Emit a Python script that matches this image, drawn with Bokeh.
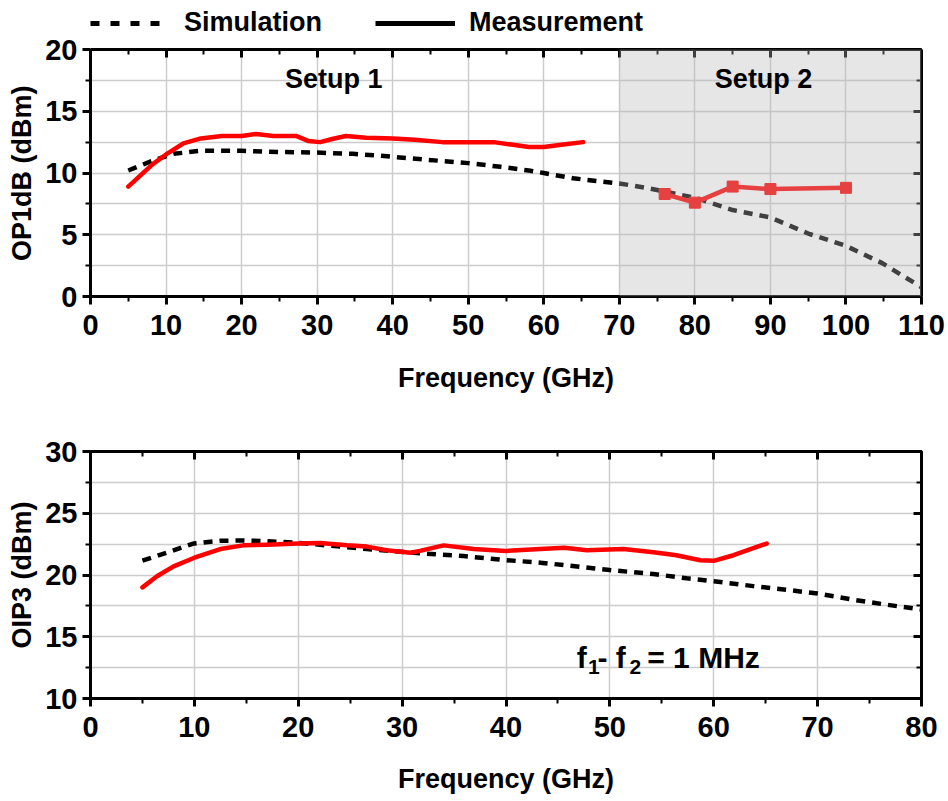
from bokeh.plotting import figure
from bokeh.models import (LinearAxis, SingleIntervalTicker, BoxAnnotation, CustomJSTickFormatter,
                          Label, Legend, LegendItem, Range1d)
from bokeh.layouts import column
from bokeh.embed import file_html
from bokeh.resources import INLINE

FONT = "Liberation Sans"

# ---------------- data: top panel (OP1dB) ----------------
op1_sim_f = [5, 8.2, 11, 14.6, 20, 25, 30, 34.7, 38.4, 42, 46.6, 50, 54.3, 58, 60, 63.9, 70,
             73.6, 80, 85, 90, 95, 100, 104.8, 110]
op1_sim_v = [10.2, 11.0, 11.55, 11.8, 11.8, 11.7, 11.65, 11.55, 11.4, 11.2, 10.97, 10.8, 10.5,
             10.2, 10.0, 9.57, 9.15, 8.8, 8.0, 7.0, 6.4, 5.1, 4.1, 2.7, 0.75]
op1_meas1_f = [5, 8.2, 10, 12.3, 14.6, 17.4, 20, 21.9, 24.2, 27.2, 28.8, 30.4, 32, 33.8, 36.5,
               40, 42.9, 46.6, 50.1, 53.4, 55.7, 58, 60, 62.6, 65.2]
op1_meas1_v = [8.9, 10.7, 11.5, 12.4, 12.8, 13.0, 13.0, 13.15, 13.0, 13.0, 12.6, 12.5, 12.75,
               13.0, 12.85, 12.8, 12.7, 12.5, 12.5, 12.5, 12.3, 12.1, 12.1, 12.3, 12.5]
op1_meas2_f = [76, 80, 85, 90, 100]
op1_meas2_v = [8.3, 7.6, 8.9, 8.7, 8.8]

# ---------------- data: bottom panel (OIP3) ----------------
oip3_sim_f = [5, 7.7, 9.9, 12.5, 14.7, 17, 20, 22.1, 26.6, 31.1, 35.9, 40, 43.3, 45.6, 50,
              54.2, 57.4, 60, 63.8, 67, 70, 73.4, 76.6, 80]
oip3_sim_v = [21.16, 21.9, 22.55, 22.77, 22.8, 22.74, 22.6, 22.45, 22.1, 21.8, 21.53, 21.2,
              21.0, 20.8, 20.4, 20.08, 19.73, 19.5, 19.1, 18.8, 18.5, 18.0, 17.6, 17.2]
oip3_meas_f = [5, 6.4, 8, 10, 12.5, 14.7, 17, 20, 22.1, 24.7, 26.6, 28.5, 30.8, 31.7, 34, 36.9,
               40, 43.3, 45.6, 47.8, 51.3, 54.2, 56.4, 58.7, 60, 61.9, 65.1]
oip3_meas_v = [19.0, 19.9, 20.7, 21.4, 22.1, 22.4, 22.45, 22.55, 22.6, 22.4, 22.3, 22.0, 21.8,
               21.95, 22.4, 22.1, 21.95, 22.1, 22.2, 22.0, 22.1, 21.85, 21.6, 21.2, 21.15,
               21.6, 22.55]

legend_labels = ["Simulation", "Measurement"]

RED = "#ff0000"
GRID = "#cccccc"


def empty_fmt():
    return CustomJSTickFormatter(code="return ''")


def base_axis_style(ax, iv):
    ax.ticker = SingleIntervalTicker(interval=iv, num_minor_ticks=2)
    ax.axis_line_width = 3
    ax.major_tick_line_width = 3
    ax.minor_tick_line_width = 2


def label_axis_style(ax, iv):
    base_axis_style(ax, iv)
    ax.major_tick_out = 8
    ax.major_tick_in = 0
    ax.minor_tick_out = 5
    ax.minor_tick_in = 0
    ax.major_label_text_font = FONT
    ax.major_label_text_font_style = "bold"
    ax.major_label_text_font_size = "29px"
    ax.major_label_text_color = "black"
    ax.axis_label_text_font = FONT
    ax.axis_label_text_font_style = "bold"
    ax.axis_label_text_font_size = "27px"
    ax.axis_label_text_color = "black"


def mirror_axis(iv, tin, tout, **kw):
    ax = LinearAxis(formatter=empty_fmt(), **kw)
    base_axis_style(ax, iv)
    ax.major_tick_out = tout
    ax.major_tick_in = tin
    ax.minor_tick_out = int(tout * 5 / 8)
    ax.minor_tick_in = int(tin * 5 / 8)
    ax.major_label_text_font_size = "2px"
    ax.major_label_standoff = 0
    return ax


# ---------------- top figure ----------------
# frame extends above y = 20 so that the legend sits inside it; axes/grid bounded to 0..20
Y_TOP = 20 + 49 / (247 / 20)
# trailing (non-collapsing) spaces re-centre the rotated label on the 0..20 part of the frame
p1 = figure(width=948, height=400, x_range=Range1d(0, 110), y_range=Range1d(0, Y_TOP),
            output_backend="svg", toolbar_location=None,
            min_border_left=90, min_border_right=27, min_border_top=0, min_border_bottom=104,
            x_axis_label="Frequency (GHz)",
            y_axis_label="OP1dB (dBm)\u2003\u00a0\u00a0\u00a0")
p1.outline_line_color = None
p1.background_fill_color = "white"
p1.border_fill_color = "white"
label_axis_style(p1.xaxis[0], 10)
label_axis_style(p1.yaxis[0], 5)
p1.yaxis[0].bounds = (0, 20)
p1.xaxis[0].major_label_standoff = 10
p1.yaxis[0].major_label_standoff = 5
p1.xaxis[0].axis_label_standoff = 25
p1.yaxis[0].axis_label_standoff = 5
p1.xgrid.ticker = SingleIntervalTicker(interval=10)
p1.ygrid.ticker = SingleIntervalTicker(interval=2.5)
p1.ygrid.bounds = (0, 20)
try:
    p1.xgrid.cross_bounds = (0, 20)
except Exception:
    pass
for g in (p1.xgrid[0], p1.ygrid[0]):
    g.grid_line_color = GRID
    g.grid_line_width = 1.5
# right mirror axis, ticks pointing in
p1.add_layout(mirror_axis(5, 8, 0, bounds=(0, 20)), "right")
# top frame line with inward ticks, drawn at y = 20
p1.add_layout(mirror_axis(10, 0, 8, fixed_location=20), "below")

p1.line(op1_sim_f, op1_sim_v, line_color="black", line_width=4.5, line_dash="9 7")
p1.line(op1_meas1_f, op1_meas1_v, line_color=RED, line_width=4.5, line_join="round", line_cap="round")
p1.line(op1_meas2_f, op1_meas2_v, line_color=RED, line_width=4.5)
p1.scatter(op1_meas2_f, op1_meas2_v, marker="square", size=11, color=RED)

p1.add_layout(BoxAnnotation(left=70, right=110, bottom=0, top=20, fill_color="#b7b7b7",
                            fill_alpha=0.35, line_color=None))
for txt, x in (("Setup 1", 32.2), ("Setup 2", 89.1)):
    p1.add_layout(Label(x=x, y=17.65, text=txt, text_align="center", text_baseline="middle",
                        text_font=FONT, text_font_style="bold", text_font_size="27px",
                        text_color="black"))

d_sim = p1.line([-20, -10], [-20, -10], line_color="black", line_width=5, line_dash="9 11")
d_meas = p1.line([-20, -10], [-20, -10], line_color="black", line_width=5)
legend = Legend(items=[LegendItem(label=legend_labels[0], renderers=[d_sim]),
                       LegendItem(label=legend_labels[1], renderers=[d_meas])],
                orientation="horizontal", location=(0, 258), border_line_color=None,
                background_fill_alpha=0, label_text_font=FONT, label_text_font_style="bold",
                label_text_font_size="27px", label_text_color="black",
                glyph_width=80, glyph_height=30, label_standoff=14, spacing=53,
                padding=0, margin=0)
p1.add_layout(legend)

# ---------------- bottom figure ----------------
p2 = figure(width=948, height=401, x_range=Range1d(0, 80), y_range=Range1d(10, 30),
            output_backend="svg", toolbar_location=None,
            min_border_left=90, min_border_right=27, min_border_top=51, min_border_bottom=103,
            x_axis_label="Frequency (GHz)", y_axis_label="OIP3 (dBm)")
p2.outline_line_color = "black"
p2.outline_line_width = 3
p2.background_fill_color = "white"
p2.border_fill_color = "white"
label_axis_style(p2.xaxis[0], 10)
label_axis_style(p2.yaxis[0], 5)
p2.xaxis[0].major_label_standoff = 10
p2.yaxis[0].major_label_standoff = 5
p2.xaxis[0].axis_label_standoff = 24
p2.yaxis[0].axis_label_standoff = 5
p2.xgrid.ticker = SingleIntervalTicker(interval=10)
p2.ygrid.ticker = SingleIntervalTicker(interval=2.5)
for g in (p2.xgrid[0], p2.ygrid[0]):
    g.grid_line_color = GRID
    g.grid_line_width = 1.5
p2.add_layout(mirror_axis(10, 8, 0), "above")
p2.add_layout(mirror_axis(5, 8, 0), "right")

p2.line(oip3_sim_f, oip3_sim_v, line_color="black", line_width=4.5, line_dash="9 7")
p2.line(oip3_meas_f, oip3_meas_v, line_color=RED, line_width=4.5, line_join="round", line_cap="round")

main_y = 13.3
sub_y = 12.55
for txt, x, y, size in (("f", 46.8, main_y, "30px"), ("1", 47.9, sub_y, "21px"),
                        ("- f", 48.8, main_y, "30px"), ("2", 51.9, sub_y, "21px"),
                        ("= 1 MHz", 53.6, main_y, "30px")):
    p2.add_layout(Label(x=x, y=y, text=txt, text_align="left", text_baseline="alphabetic",
                        text_font=FONT, text_font_style="bold", text_font_size=size,
                        text_color="black"))

layout = column(p1, p2, spacing=0)
open("out.html", "w").write(file_html(layout, INLINE))
